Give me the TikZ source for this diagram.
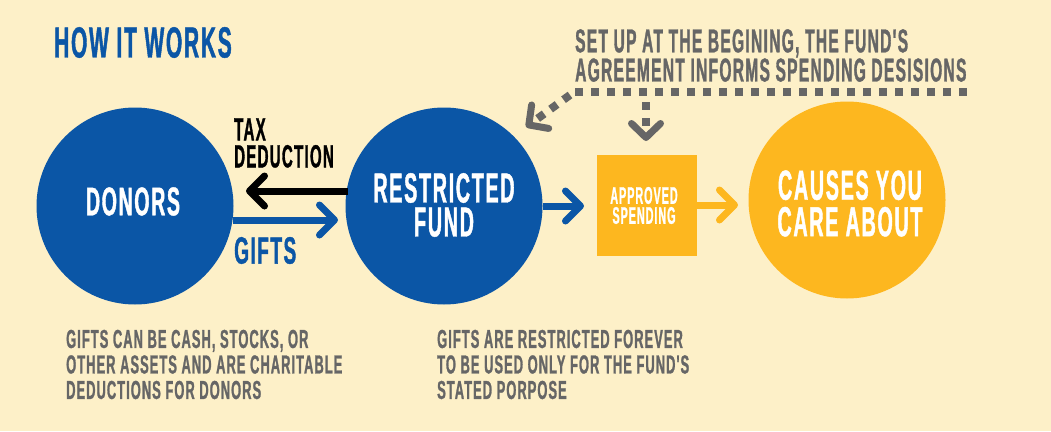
\documentclass[tikz,border=0pt]{standalone}
\usepackage{fontspec}
\setmainfont{Liberation Sans}[BoldFont={Liberation Sans Bold},Ligatures=TeXOff]
\usetikzlibrary{arrows.meta}
\definecolor{bgc}{HTML}{FDF0C8}
\definecolor{bluec}{HTML}{0B56A6}
\definecolor{yelc}{HTML}{FDB71F}
\definecolor{grayc}{HTML}{666666}
\newcommand{\fs}[3]{\fontsize{#1}{#2}\bfseries\addfontfeature{FakeStretch=#3,FakeBold=1,LetterSpace=4}\selectfont}
\tikzset{
  x=1pt,y=-1pt,
  disc/.style={circle,minimum size=197pt,inner sep=0pt},
  lbl/.style={inner sep=0pt,align=left,anchor=west},
  clbl/.style={inner sep=0pt,align=center,text=white},
  barb/.style={line width=7pt,-{Straight Barb[length=15pt,width=30pt,round,line width=7pt]}},
  dots/.style={line width=8pt,grayc,dash pattern=on 8pt off 8pt},
  dotarrow/.style={dots,-{Straight Barb[length=14pt,width=29pt,round,line width=7pt]}},
}
\begin{document}
\begin{tikzpicture}
\useasboundingbox (0,0) rectangle (1051,431);
\fill[bgc] (0,0) rectangle (1051,431);
\node[disc,fill=bluec] (donors) at (135,206) {};
\node[disc,fill=bluec] (fund) at (444,206) {};
\node[disc,fill=yelc] (causes) at (847,200) {};
\node[fill=yelc,minimum width=100pt,minimum height=101pt,inner sep=0pt] (spend) at (647,205.5) {};
\node[clbl,font=\fs{40}{40}{0.49}] (donorst) at (133,201.5) {DONORS};
\node[clbl,font=\fs{42}{34}{0.47}] (fundt) at (444,205) {RESTRICTED\\FUND};
\node[clbl,font=\fs{42}{36.5}{0.47}] (causest) at (850,203.5) {CAUSES YOU\\CARE ABOUT};
\node[clbl,font=\fs{24}{20}{0.45}] (spendt) at (644,205.5) {APPROVED\\SPENDING};
\node[lbl,text=bluec,font=\fs{43.5}{44}{0.482}] (title) at (54,42.5) {HOW IT WORKS};
\node[lbl,font=\fs{32}{27}{0.47}] (tax) at (234,143) {TAX\\DEDUCTION};
\node[lbl,text=bluec,font=\fs{38}{38}{0.50}] (gifts) at (234,250.5) {GIFTS};
\node[lbl,text=grayc,font=\fs{33}{27.5}{0.47}] (setup) at (575,55.5) {SET UP AT THE BEGINING, THE FUND'S\\AGREEMENT INFORMS SPENDING DESISIONS};
\node[lbl,text=grayc,font=\fs{26}{25.5}{0.496}] (note1) at (66,364.5) {GIFTS CAN BE CASH, STOCKS, OR\\OTHER ASSETS AND ARE CHARITABLE\\DEDUCTIONS FOR DONORS};
\node[lbl,text=grayc,font=\fs{26}{25.5}{0.496}] (note2) at (437,364.5) {GIFTS ARE RESTRICTED FOREVER\\TO BE USED ONLY FOR THE FUND'S\\STATED PORPOSE};
\coordinate (taxs) at (348,191);
\coordinate (taxe) at (246,191);
\coordinate (gifs) at (233,220);
\coordinate (gife) at (338,220);
\coordinate (rs) at (543,206);
\coordinate (re) at (584,206);
\coordinate (ys) at (697,205);
\coordinate (ye) at (738,205);
\coordinate (ds) at (575,92);
\coordinate (de) at (967,92);
\coordinate (as) at (570,95);
\coordinate (ae) at (526,127);
\coordinate (bs) at (646,102);
\coordinate (be) at (646,141);
\draw[barb,black] (taxs) -- (taxe);
\draw[barb,bluec] (gifs) -- (gife);
\draw[barb,bluec] (rs) -- (re);
\draw[barb,yelc] (ys) -- (ye);
\draw[dots] (ds) -- (de);
\draw[dotarrow] (as) -- (ae);
\draw[dotarrow] (bs) -- (be);
\end{tikzpicture}
\end{document}
